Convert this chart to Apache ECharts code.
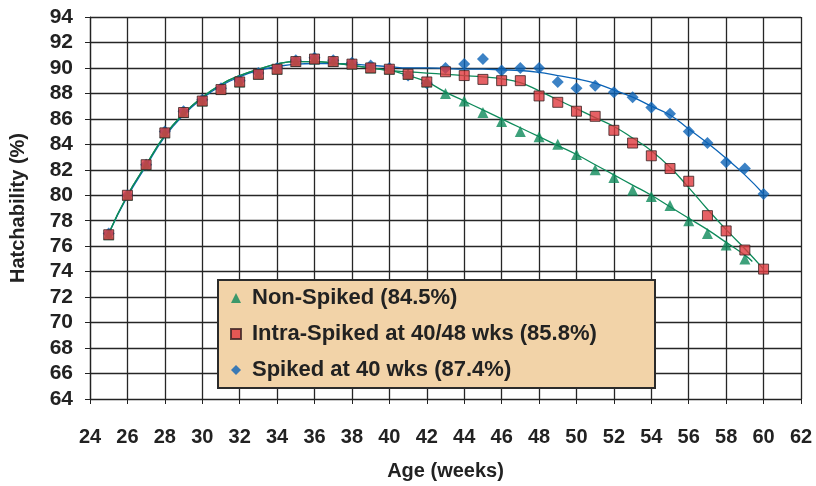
<!DOCTYPE html>
<html>
<head>
<meta charset="utf-8">
<script src="https://cdn.jsdelivr.net/npm/echarts@6/dist/echarts.min.js"></script>
<style>
html,body{margin:0;padding:0;background:#fff;}
#chart{width:816px;height:486px;}
</style>
</head>
<body>
<div id="chart"></div>
<script>
// ---- data ----
const ages = [25,26,27,28,29,30,31,32,33,34,35,36,37,38,39,40,41,42,43,44,45,46,47,48,49,50,51,52,53,54,55,56,57,58,59,60];
const nonSpiked   = [76.9,80.0,82.4,84.9,86.5,87.4,88.3,88.9,89.5,89.9,90.5,90.7,90.5,90.3,90.0,89.9,89.5,88.9,88.0,87.4,86.5,85.8,85.0,84.6,84.0,83.2,82.0,81.4,80.4,79.9,79.2,78.0,77.0,76.1,75.0,null];
const intraSpiked = [76.9,80.0,82.4,84.9,86.5,87.4,88.3,88.9,89.5,89.9,90.5,90.7,90.5,90.3,90.0,89.9,89.5,88.9,89.7,89.4,89.1,89.0,89.0,87.8,87.3,86.6,86.2,85.1,84.1,83.1,82.1,81.1,78.4,77.2,75.7,74.2];
const spiked      = [77.0,80.0,82.4,85.0,86.6,87.5,88.4,89.0,89.6,90.0,90.6,90.8,90.6,90.4,90.2,90.0,89.4,88.8,90.0,90.3,90.7,89.8,90.0,90.0,88.9,88.4,88.6,88.1,87.7,86.9,86.4,85.0,84.1,82.6,82.1,80.1];

// trend curves
const nonTrendAges = [25,26,27,28,29,30,31,32,33,34,35,36,37,38,39,40,41,42,43,44,45,46,47,48,49,50,51,52,53,54,55,56,57,58,59,59.4];
const nonTrend     = [77.0,80.0,82.4,84.7,86.4,87.7,88.7,89.4,89.9,90.3,90.5,90.5,90.4,90.2,90.0,89.8,89.4,88.9,88.1,87.4,86.7,86.0,85.3,84.6,83.9,83.2,82.4,81.6,80.8,80.0,79.1,78.2,77.3,76.3,75.3,74.8];
const intraTrend   = [77.0,80.0,82.4,84.7,86.4,87.7,88.7,89.4,89.9,90.3,90.5,90.5,90.4,90.2,90.0,89.8,89.7,89.6,89.5,89.4,89.3,89.15,88.85,88.2,87.5,86.8,86.1,85.4,84.5,83.5,82.2,80.6,78.9,77.3,75.8,74.2];
const spikedTrend  = [77.0,79.9,82.3,84.6,86.3,87.6,88.6,89.3,89.8,90.1,90.3,90.35,90.35,90.3,90.2,90.1,90.0,90.0,89.95,89.9,89.9,89.85,89.8,89.65,89.4,89.15,88.8,88.25,87.7,87.0,86.3,85.2,84.1,82.9,81.6,80.1];

const xTicks = {min:24, max:62, step:2};
const yTicks = {min:64, max:94, step:2};
const legendNames = ['Non-Spiked (84.5%)','Intra-Spiked at 40/48 wks (85.8%)','Spiked at 40 wks (87.4%)'];

const GREEN = '#0E8A5A', RED = '#E0393E', BLUE = '#0B63B6';
const FONT = 'Liberation Sans, Arial, sans-serif';

function pairs(xs, ys){ return xs.map((x,i)=>[x, ys[i]]); }

const chart = echarts.init(document.getElementById('chart'), null, {renderer:'canvas'});
chart.setOption({
  animation:false,
  backgroundColor:'#fff',
  grid:{left:83, right:15, top:17, bottom:86, containLabel:false},
  xAxis:{
    type:'value', min:xTicks.min, max:xTicks.max, interval:xTicks.step,
    name:'Age (weeks)', nameLocation:'middle', nameGap:62,
    nameTextStyle:{fontFamily:FONT, fontWeight:'bold', fontSize:20, color:'#222'},
    axisLine:{show:true, lineStyle:{color:'#222', width:1.2}},
    axisTick:{show:true, length:5, lineStyle:{color:'#222'}},
    axisLabel:{margin:28, fontFamily:FONT, fontWeight:'bold', fontSize:20, color:'#222'},
    splitLine:{show:true, lineStyle:{color:'#262626', width:1.3}}
  },
  yAxis:{
    type:'value', min:yTicks.min, max:yTicks.max, interval:yTicks.step,
    name:'Hatchability (%)', nameLocation:'middle', nameGap:62, nameRotate:90,
    nameTextStyle:{fontFamily:FONT, fontWeight:'bold', fontSize:20, color:'#222'},
    axisLine:{show:true, lineStyle:{color:'#222', width:1.2}},
    axisTick:{show:true, length:5, lineStyle:{color:'#222'}},
    axisLabel:{margin:17, fontFamily:FONT, fontWeight:'bold', fontSize:21, color:'#222'},
    splitLine:{show:true, lineStyle:{color:'#262626', width:1.3}}
  },
  graphic:[{
    type:'rect', z:3,
    shape:{x:218, y:280, width:437, height:108},
    style:{fill:'#F2D3A8', stroke:'#2b2b2b', lineWidth:2}
  }],
  legend:{
    z:5, orient:'vertical', left:230, top:286, padding:0,
    itemWidth:10, itemHeight:10, itemGap:12,
    data:legendNames,
    textStyle:{fontFamily:FONT, fontWeight:'bold', fontSize:22, color:'#222', lineHeight:24, padding:[0,0,0,6]}
  },
  series:[
    {type:'line', data:pairs(ages, spikedTrend), smooth:true, showSymbol:false, silent:true,
     lineStyle:{color:BLUE, width:1.3}, z:2},
    {type:'line', data:pairs(nonTrendAges, nonTrend), smooth:true, showSymbol:false, silent:true,
     lineStyle:{color:GREEN, width:1.3}, z:2},
    {type:'line', data:pairs(ages, intraTrend), smooth:true, showSymbol:false, silent:true,
     lineStyle:{color:GREEN, width:1.3}, z:2},
    {name:legendNames[2], type:'scatter', data:pairs(ages, spiked), symbol:'diamond', symbolSize:12,
     itemStyle:{color:BLUE}, z:3},
    {name:legendNames[0], type:'scatter', data:pairs(ages, nonSpiked).filter(p=>p[1]!==null), symbol:'triangle', symbolSize:11,
     itemStyle:{color:GREEN}, z:3},
    {name:legendNames[1], type:'scatter', data:pairs(ages, intraSpiked), symbol:'rect', symbolSize:10,
     itemStyle:{color:RED, borderColor:'#3a2222', borderWidth:1}, z:4}
  ]
});
</script>
</body>
</html>
